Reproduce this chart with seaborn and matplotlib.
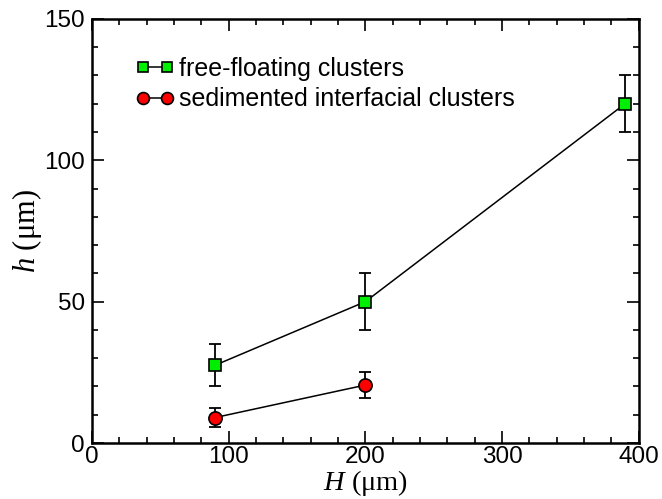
import numpy as np
import pandas as pd
import seaborn as sns
import matplotlib as mpl
mpl.use("Agg")
import matplotlib.pyplot as plt
from matplotlib.ticker import MultipleLocator

# values
free_H = [90, 200, 390]
free_h = [27.5, 50, 120]
free_err = [7.5, 10, 10]
sed_H = [90, 200]
sed_h = [9, 20.5]
sed_err = [3.5, 4.5]

sns.set_style("ticks")
plt.rcParams['font.family'] = ['Liberation Sans', 'DejaVu Sans']
plt.rcParams['mathtext.fontset'] = 'custom'
plt.rcParams['mathtext.it'] = 'Liberation Serif:italic'
plt.rcParams['mathtext.rm'] = 'Liberation Serif'
plt.rcParams['text.color'] = 'black'
plt.rcParams['axes.labelcolor'] = 'black'
plt.rcParams['xtick.color'] = 'black'
plt.rcParams['ytick.color'] = 'black'

fig = plt.figure(figsize=(6.62, 4.99), dpi=100)
ax = fig.add_axes([0.139, 0.1122, 0.826, 0.850])

free = pd.DataFrame({'H': free_H, 'h': free_h})
sed = pd.DataFrame({'H': sed_H, 'h': sed_h})

ax.errorbar(free_H, free_h, yerr=free_err, fmt='none', ecolor='black',
            elinewidth=1.3, capsize=4.5, capthick=1.3, zorder=2)
ax.errorbar(sed_H, sed_h, yerr=sed_err, fmt='none', ecolor='black',
            elinewidth=1.3, capsize=4.5, capthick=1.3, zorder=2)
sns.lineplot(data=free, x='H', y='h', ax=ax, color='black', lw=1.1,
             marker='s', markersize=8, markerfacecolor='#00ee00',
             markeredgecolor='black', markeredgewidth=1.2,
             label='free-floating clusters', zorder=3)
sns.lineplot(data=sed, x='H', y='h', ax=ax, color='black', lw=1.1,
             marker='o', markersize=9.5, markerfacecolor='#ff0000',
             markeredgecolor='black', markeredgewidth=1.2,
             label='sedimented interfacial clusters', zorder=3)

ax.set_xlim(0, 400)
ax.set_ylim(0, 150)
ax.xaxis.set_major_locator(MultipleLocator(100))
ax.xaxis.set_minor_locator(MultipleLocator(20))
ax.yaxis.set_major_locator(MultipleLocator(50))
ax.yaxis.set_minor_locator(MultipleLocator(10))
ax.tick_params(which='both', direction='in', top=True, right=True, width=1.2,
               labelsize=17.5)
ax.tick_params(axis='x', pad=2.5)
ax.tick_params(axis='y', pad=5)
ax.tick_params(which='major', length=8.5)
ax.tick_params(which='minor', length=4.5)
for s in ax.spines.values():
    s.set_linewidth(1.8)
    s.set_color('black')

ax.set_xlabel(r'$H$ (μm)', fontsize=20.5, labelpad=0, fontfamily='Liberation Serif')
ax.set_ylabel(r'$h$ (μm)', fontsize=22, labelpad=0, fontfamily='Liberation Serif')

ax.legend(loc='upper left', bbox_to_anchor=(0.0795, 0.91), frameon=False,
          fontsize=18, numpoints=2, handlelength=1.58, handletextpad=0.16,
          labelspacing=0.25, borderaxespad=0, borderpad=0, markerscale=0.9)

fig.savefig('out.png', dpi=100)
